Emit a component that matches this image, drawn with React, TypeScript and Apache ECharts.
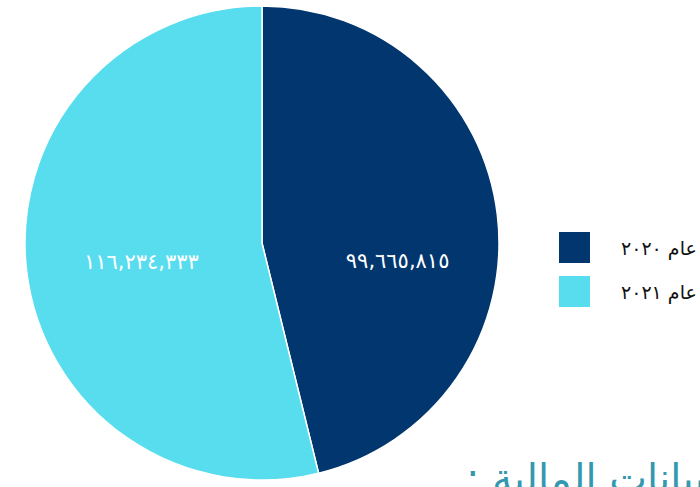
import React, { useEffect, useRef } from "react";
import * as echarts from "echarts";

const categories = ["عام ٢٠٢٠", "عام ٢٠٢١"];
const values = [99665815, 116234333];
const colors = ["#02366F", "#57DDEE"];
const footerText = ": البيانات المالية";

const toArabicDigits = (s: string) =>
  s.replace(/[0-9]/g, (d) => "٠١٢٣٤٥٦٧٨٩"[Number(d)]);

export default function App() {
  const ref = useRef<HTMLDivElement>(null);
  useEffect(() => {
    const chart = echarts.init(ref.current!, undefined, { renderer: "svg" });
    const offsets = [
      [15, 33],
      [0, 4],
    ];
    chart.setOption({
      animation: false,
      backgroundColor: "#ffffff",
      legend: {
        orient: "vertical",
        left: 552,
        top: 225,
        icon: "rect",
        itemWidth: 33,
        itemHeight: 33,
        itemGap: 9,
        data: categories,
        textStyle: {
          fontFamily: "DejaVu Sans",
          fontSize: 19,
          color: "#111111",
          padding: [0, 0, 0, 25],
        },
      },
      graphic: [
        {
          type: "text",
          left: 466,
          top: 458,
          style: {
            text: footerText,
            font: "40px 'DejaVu Sans'",
            fill: "#3399B0",
          },
        },
      ],
      series: [
        {
          type: "pie",
          center: [262, 243],
          radius: 237,
          startAngle: 90,
          clockwise: true,
          data: categories.map((name, i) => ({
            name,
            value: values[i],
            itemStyle: { color: colors[i] },
            label: { offset: offsets[i] },
          })),
          itemStyle: { borderColor: "#ffffff", borderWidth: 1.5 },
          label: {
            show: true,
            position: "inside",
            color: "#ffffff",
            fontFamily: "DejaVu Sans",
            fontSize: 21,
            formatter: (p: any) =>
              toArabicDigits(Number(p.value).toLocaleString("en-US")),
          },
          labelLine: { show: false },
          emphasis: { disabled: true },
        },
      ],
    });
    return () => chart.dispose();
  }, []);
  return (
    <div
      ref={ref}
      style={{ position: "fixed", left: 0, top: 0, width: 700, height: 487 }}
    />
  );
}
